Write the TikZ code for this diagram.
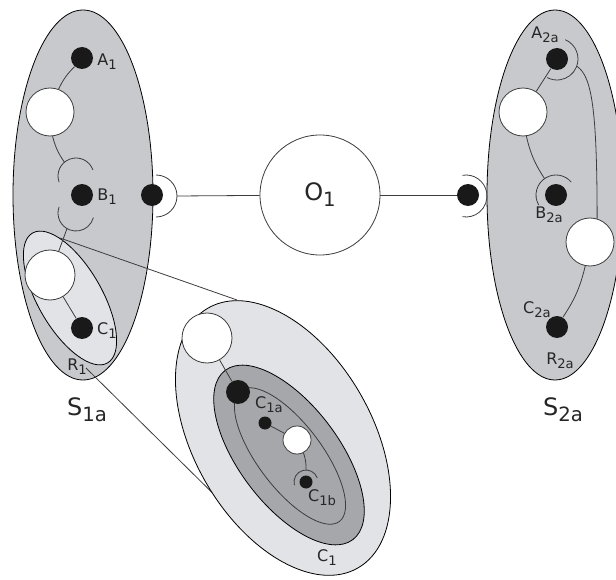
\documentclass[tikz,border=0pt]{standalone}
\usepackage{fontspec}
\setmainfont{DejaVu Sans}
\definecolor{sysgray}{RGB}{200,201,204}
\definecolor{paleg}{RGB}{226,227,230}
\definecolor{darkg}{RGB}{166,167,171}
\definecolor{linegray}{RGB}{60,60,60}
\newcommand{\sbs}[1]{\raisebox{-0.45ex}{\scalebox{0.82}{#1}}}
\tikzset{
  bdot/.style={circle, fill=black!90, inner sep=0pt, minimum size=22pt},
  sdot/.style={circle, fill=black!90, inner sep=0pt, minimum size=13pt},
  wcirc/.style={circle, draw=linegray, fill=white, line width=0.8pt, inner sep=0pt, minimum size=48pt},
  conn/.style={draw=linegray, line width=0.8pt},
  lab/.style={font=\fontsize{16}{16}\selectfont, text=black!85, inner sep=0pt},
  biglab/.style={font=\fontsize{24}{24}\selectfont, text=black!85, inner sep=0pt},
}
\begin{document}
\begin{tikzpicture}[x=1pt, y=-1pt, line width=0.8pt]
	\useasboundingbox (0,0) rectangle (616,580);
	% the two systems
	\draw[fill=sysgray] (83,195) ellipse [x radius=70, y radius=185];
	\draw[fill=sysgray] (555,195) ellipse [x radius=68, y radius=185];
	% region R1
	\draw[fill=paleg, rotate around={30:(70,298)}] (70,298) ellipse [x radius=32, y radius=75];
	% zoom lines
	\coordinate (z1) at (60,238);
	\coordinate (z2) at (237,300);
	\coordinate (z3) at (86,368);
	\coordinate (z4) at (250,530);
	\draw[conn] (z1) -- (z2);
	\draw[conn] (z3) -- (z4);
	% enlarged component C1
	\draw[fill=paleg, rotate around={30:(283,438)}] (283,438) ellipse [x radius=89, y radius=150];
	\draw[fill=darkg, rotate around={37:(289,455)}] (289,455) ellipse [x radius=50, y radius=106];
	\draw[conn, rotate around={37:(290,456)}] (290,456) ellipse [x radius=32, y radius=82];
	\node[wcirc, minimum size=50pt] (c1w) at (207,338) {};
	\node[bdot, minimum size=24pt] (c1d) at (238,392) {};
	\node[sdot] (c1a) at (265,423) {};
	\node[wcirc, minimum size=28pt] (c1v) at (297,440) {};
	\node[sdot] (c1b) at (306,482) {};
	\draw[conn] ([shift={(165:12)}]c1b.center) arc[start angle=165, end angle=340, radius=12];
	\path (c1b.center) ++(270:12) coordinate (c1bt);
	\draw[conn] (c1w) -- (c1d);
	\draw[conn] (c1a) -- (c1v);
	\draw[conn] (c1v) to[bend left=10] (c1bt);
	% system S1a
	\node[bdot] (a1) at (82,58) {};
	\node[wcirc] (w11) at (50,112) {};
	\node[bdot] (b1) at (82,195) {};
	\node[wcirc, minimum size=50pt] (w12) at (50,275) {};
	\node[bdot] (c1) at (82,328) {};
	\coordinate (b1u) at (76,176);
	\coordinate (b1d) at (76,213);
	\draw[conn] ([shift={(-20:18)}]b1u) arc[start angle=-20, end angle=-200, radius=18];
	\draw[conn] ([shift={(200:18)}]b1d) arc[start angle=200, end angle=15, radius=18];
	\path (b1u) ++(-130:18) coordinate (b1ut);
	\path (b1d) ++(120:18) coordinate (b1db);
	\draw[conn] (a1) to[bend right=10] (w11);
	\draw[conn] (w11) to[bend right=10] (b1ut);
	\draw[conn] (b1db) -- (w12);
	\draw[conn] (w12) -- (c1);
	% connector O1
	\node[bdot] (p1) at (152,195) {};
	\coordinate (p1s) at (156,196);
	\draw[conn] ([shift={(-90:21)}]p1s) arc[start angle=-90, end angle=90, radius=21];
	\path (p1s) ++(0:21) coordinate (p1r);
	\node[circle, draw=linegray, fill=white, inner sep=0pt, minimum size=120pt, biglab] (o1) at (320,195) {O\sbs{1}};
	\node[bdot] (p2) at (468,195) {};
	\coordinate (p2s) at (466,196);
	\draw[conn] ([shift={(-100:21)}]p2s) arc[start angle=-100, end angle=100, radius=21];
	\draw[conn] (p1r) -- (o1);
	\draw[conn] (o1) -- (p2);
	% system S2a
	\node[bdot] (a2) at (557,59) {};
	\node[wcirc] (w21) at (523,112) {};
	\node[bdot] (b2) at (556,195) {};
	\node[wcirc] (w22) at (590,242) {};
	\node[bdot] (c2) at (557,327) {};
	\draw[conn] ([shift={(-67:21)}]a2.center) arc[start angle=-67, end angle=118, radius=21];
	\draw[conn] ([shift={(150:20)}]b2.center) arc[start angle=150, end angle=320, radius=20];
	\path (a2.center) ++(20:21) coordinate (a2r);
	\path (b2.center) ++(-125:20) coordinate (b2t);
	\draw[conn] (a2) -- (w21);
	\draw[conn] (w21) to[bend right=10] (b2t);
	\draw[conn] (a2r) .. controls (592,76) and (597,110) .. (w22.73);
	\draw[conn] (w22) to[bend left=10] (c2);
	% labels
	\node[lab] (la1) at (107,62) {A\sbs{1}};
	\node[lab] (lb1) at (107,197) {B\sbs{1}};
	\node[lab] (lc1) at (107,331) {C\sbs{1}};
	\node[lab] (lr1) at (77,367) {R\sbs{1}};
	\node[biglab] (ls1) at (87,410) {S\sbs{1a}};
	\node[lab] (lc1a) at (269,405) {C\sbs{1a}};
	\node[lab] (lc1b) at (322,498) {C\sbs{1b}};
	\node[lab] (lcc1) at (327,558) {C\sbs{1}};
	\node[lab] (la2) at (545,35) {A\sbs{2a}};
	\node[lab] (lb2) at (549,215) {B\sbs{2a}};
	\node[lab] (lc2) at (537,310) {C\sbs{2a}};
	\node[lab] (lr2) at (560,361) {R\sbs{2a}};
	\node[biglab] (ls2) at (563,410) {S\sbs{2a}};
\end{tikzpicture}
\end{document}
